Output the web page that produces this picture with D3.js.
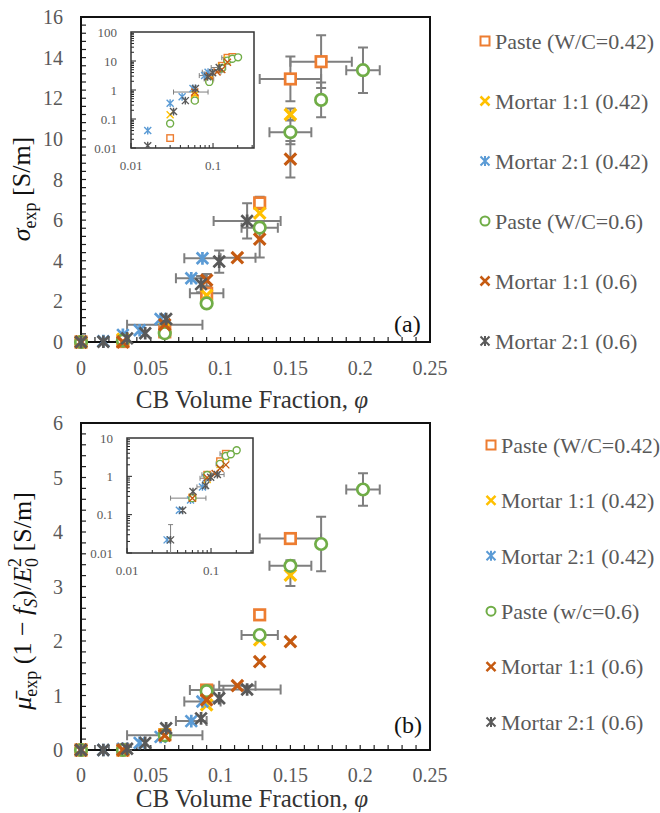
<!DOCTYPE html>
<html lang="en">
<head>
<meta charset="UTF-8"/>
<title>CB volume fraction vs conductivity</title>
<script src="https://d3js.org/d3.v7.min.js"></script>
<style>
	body{margin:0;background:#fff;}
	text{font-family:"Liberation Serif","DejaVu Serif","Times New Roman",serif;}
</style>
</head>
<body>
<script>

var w=660;
var h=813;
var serif="'Liberation Serif','DejaVu Serif','Times New Roman',serif";

// series
var names =["Paste (W/C=0.42)","Mortar 1:1 (0.42)","Mortar 2:1 (0.42)","Paste (W/C=0.6)","Mortar 1:1 (0.6)","Mortar 2:1 (0.6)"];
var namesB=["Paste (W/C=0.42)","Mortar 1:1 (0.42)","Mortar 2:1 (0.42)","Paste (w/c=0.6)","Mortar 1:1 (0.6)","Mortar 2:1 (0.6)"];
var colors=["#ED7D31","#FFC000","#5B9BD5","#70AD47","#C55A11","#595959"];
var shapes=["square","x","star","circle","x","star"];

// ticks
var xTicks=[0,0.05,0.1,0.15,0.2,0.25];
var yTicksA=[0,2,4,6,8,10,12,14,16];
var yTicksB=[0,1,2,3,4,5,6];
var insetYTicksA=[0.01,0.1,1,10,100];
var insetYTicksB=[0.01,0.1,1,10];
var insetXTicks=[0.01,0.1];

// Paste (W/C=0.42)
var phi1=[0,0.03,0.06,0.09,0.128,0.15,0.172];
var sig1=[0,0.022,0.5,2.4,6.85,12.95,13.8];
var mu1 =[0,0,0.28,1.1,2.48,3.88,null];
var ex1 =[0,0,0,0.012,0,0.022,0.022];
var es1 =[0,0,0,0,0.3,1.1,1.3];
var em1 =[0,0,0,0,0,0.1,0];

// Mortar 1:1 (0.42)
var phi2=[0,0.03,0.06,0.09,0.128,0.15];
var sig2=[0,0.14,0.7,2.3,6.35,11.2];
var mu2 =[0,0,0.28,0.83,2.02,3.21];
var ex2 =[0,0,0,0,0,0];
var es2 =[0,0,0,0,0,0.3];
var em2 =[0,0,0,0,0,0.2];

// Mortar 2:1 (0.42)
var phi3=[0.016,0.03,0.042,0.057,0.079,0.087];
var sig3=[0.04,0.35,0.58,1.13,3.14,4.12];
var mu3 =[0,0.022,0.13,0.24,0.53,0.89];
var ex3 =[0,0,0,0,0.011,0.013];
var es3 =[0,0,0,0,0,0];
var em3 =[0,0,0,0,0,0];

// Paste (W/C=0.6)
var phi4=[0,0.03,0.06,0.09,0.128,0.15,0.172,0.202];
var sig4=[0,0.07,0.43,1.9,5.63,10.33,11.92,13.38];
var mu4 =[0,0,0.27,1.08,2.11,3.38,3.78,4.78];
var ex4 =[0,0,0,0,0.013,0.015,0,0.012];
var es4 =[0,0,0,0,0.2,0.6,0.85,1.12];
var em4 =[0,0,0,0,0,0.1,0.5,0.3];

// Mortar 1:1 (0.6)
var phi5=[0,0.03,0.06,0.09,0.112,0.128,0.15];
var sig5=[0,0,0.85,3.05,4.15,5.06,9.0];
var mu5 =[0,0,0.27,0.92,1.18,1.62,1.99];
var ex5 =[0,0,0.027,0,0.013,0,0];
var es5 =[0,0,0,0.3,0,0.9,0.9];
var em5 =[0,0,0,0,0,0,0];

// Mortar 2:1 (0.6)
var phi6=[0,0.016,0.033,0.046,0.061,0.086,0.099,0.119];
var sig6=[0,0.012,0.18,0.43,1.13,2.85,3.96,5.96];
var mu6 =[0,0,0.022,0.13,0.4,0.58,0.95,1.11];
var ex6 =[0,0,0,0,0,0,0,0.024];
var es6 =[0,0,0,0,0,0.4,0.55,0.87];
var em6 =[0,0,0.033,0,0,0,0,0];

var phis=[phi1,phi2,phi3,phi4,phi5,phi6];
var sigs=[sig1,sig2,sig3,sig4,sig5,sig6];
var mus =[mu1,mu2,mu3,mu4,mu5,mu6];
var exs =[ex1,ex2,ex3,ex4,ex5,ex6];
var ess =[es1,es2,es3,es4,es5,es6];
var ems =[em1,em2,em3,em4,em5,em6];

var errColor="#7f7f7f";
var tickColor="#595959";

var svg=d3.select("body")
	.append("svg")
	.attr("width",w)
	.attr("height",h)
	.attr("font-family",serif);

svg.append("rect").attr("width",w).attr("height",h).attr("fill","#fff");

function points(ys,es){
	var out=[];
	for(var s=0;s<6;s++){
		phis[s].forEach(function(p,i){
			if(ys[s][i]===null) return;
			out.push({s:s,x:p,y:ys[s][i],ex:exs[s][i],ey:es[s][i]});
		});
	}
	return out;
}

function marker(g,shape,cx,cy,size,color,sw){
	var r=size/2;
	if(shape=="square"){
		g.append("rect").attr("x",cx-r).attr("y",cy-r).attr("width",size).attr("height",size)
			.attr("fill","#fff").attr("stroke",color).attr("stroke-width",sw);
	}else if(shape=="circle"){
		g.append("circle").attr("cx",cx).attr("cy",cy).attr("r",r)
			.attr("fill","#fff").attr("stroke",color).attr("stroke-width",sw);
	}else{
		var p="M"+(cx-r)+","+(cy-r)+"L"+(cx+r)+","+(cy+r)+"M"+(cx-r)+","+(cy+r)+"L"+(cx+r)+","+(cy-r);
		if(shape=="star") p+="M"+cx+","+(cy-r*1.1)+"L"+cx+","+(cy+r*1.1);
		g.append("path").attr("d",p).attr("fill","none").attr("stroke",color).attr("stroke-width",sw);
	}
}

function errorBars(g,pts,xs,ys,cap,sw,logY){
	pts.forEach(function(d){
		var cx=xs(d.x), cy=ys(d.y);
		if(d.ex>0){
			var a=xs(d.x-d.ex), b=xs(d.x+d.ex);
			g.append("path").attr("d","M"+a+","+cy+"H"+b+"M"+a+","+(cy-cap)+"V"+(cy+cap)+"M"+b+","+(cy-cap)+"V"+(cy+cap))
				.attr("stroke",errColor).attr("stroke-width",sw).attr("fill","none");
		}
		if(d.ey>0){
			var lo=d.y-d.ey;
			if(logY && lo<=0) lo=1e-5;
			var t=ys(d.y+d.ey), u=ys(lo);
			var pth="M"+cx+","+t+"V"+u+"M"+(cx-cap)+","+t+"H"+(cx+cap);
			if(!(logY && lo<=1e-5)) pth+="M"+(cx-cap)+","+u+"H"+(cx+cap);
			g.append("path").attr("d",pth)
				.attr("stroke",errColor).attr("stroke-width",sw).attr("fill","none");
		}
	});
}

function panel(cfg){
	var xScale=d3.scaleLinear().domain([0,0.25]).range([81,430]);
	var yScale=d3.scaleLinear().domain([0,cfg.yMax]).range([cfg.bottom,cfg.top]);
	var g=svg.append("g");

	// minor ticks inside the frame
	d3.range(0,0.2501,0.01).forEach(function(v){
		g.append("line").attr("x1",xScale(v)).attr("x2",xScale(v))
			.attr("y1",cfg.bottom).attr("y2",cfg.bottom-5).attr("stroke","#222").attr("stroke-width",1.2);
	});
	d3.range(0,cfg.yMax+0.001,cfg.minor).forEach(function(v){
		g.append("line").attr("x1",81).attr("x2",86)
			.attr("y1",yScale(v)).attr("y2",yScale(v)).attr("stroke","#222").attr("stroke-width",1.2);
	});

	g.append("rect").attr("x",81).attr("y",cfg.top).attr("width",349).attr("height",cfg.bottom-cfg.top)
		.attr("fill","none").attr("stroke","#111").attr("stroke-width",2);

	g.selectAll(".xl").data(xTicks).enter().append("text")
		.attr("x",function(d){return xScale(d);}).attr("y",cfg.xLabelY)
		.attr("text-anchor","middle").attr("font-size",20).attr("fill",tickColor)
		.text(function(d){return d;});
	g.selectAll(".yl").data(cfg.yTicks).enter().append("text")
		.attr("x",63).attr("y",function(d){return yScale(d);}).attr("dy","0.35em")
		.attr("text-anchor","end").attr("font-size",20).attr("fill",tickColor)
		.text(function(d){return d;});

	var title=g.append("text").attr("x",252).attr("y",cfg.titleY).attr("text-anchor","middle")
		.attr("font-size",25).attr("fill","#333");
	title.append("tspan").text("CB Volume Fraction, ");
	title.append("tspan").attr("font-style","italic").text("φ");

	g.append("text").attr("x",394).attr("y",cfg.tagY).attr("font-size",24).attr("fill","#111").text(cfg.tag);

	var pts=points(cfg.ys,cfg.es);
	errorBars(g,pts,xScale,yScale,5,2,false);
	pts.forEach(function(d){
		var sh=shapes[d.s];
		var size=sh=="square"?10.5:(sh=="circle"?11.5:11.5);
		var sw=sh=="x"?3.2:2.7;
		marker(g,sh,xScale(d.x),yScale(d.y),size,colors[d.s],sw);
	});

	// log-log inset
	var ins=cfg.inset;
	var ix=d3.scaleLog().domain([0.01,0.316]).range([ins.x0,ins.x1]);
	var iy=d3.scaleLog().domain(ins.yDomain).range([ins.y1,ins.y0]);
	var ig=svg.append("g");
	ig.append("rect").attr("x",ins.x0).attr("y",ins.y0).attr("width",ins.x1-ins.x0).attr("height",ins.y1-ins.y0)
		.attr("fill","#fff");
	ig.append("clipPath").attr("id","clip"+cfg.tag.replace(/\W/g,""))
		.append("rect").attr("x",ins.x0).attr("y",ins.y0).attr("width",ins.x1-ins.x0).attr("height",ins.y1-ins.y0);

	var lx=[0.02,0.03,0.04,0.05,0.06,0.07,0.08,0.09,0.2,0.3];
	lx.forEach(function(v){
		ig.append("line").attr("x1",ix(v)).attr("x2",ix(v)).attr("y1",ins.y1).attr("y2",ins.y1-3)
			.attr("stroke","#222").attr("stroke-width",1);
	});
	insetXTicks.forEach(function(v){
		ig.append("line").attr("x1",ix(v)).attr("x2",ix(v)).attr("y1",ins.y1).attr("y2",ins.y1-5)
			.attr("stroke","#222").attr("stroke-width",1);
	});
	var lo=Math.log10(ins.yDomain[0]), hi=Math.log10(ins.yDomain[1]);
	for(var e=lo;e<hi;e++){
		for(var k=1;k<10;k++){
			var v=k*Math.pow(10,e);
			ig.append("line").attr("x1",ins.x0).attr("x2",ins.x0+(k==1?5:3)).attr("y1",iy(v)).attr("y2",iy(v))
				.attr("stroke","#222").attr("stroke-width",1);
		}
	}

	ig.append("rect").attr("x",ins.x0).attr("y",ins.y0).attr("width",ins.x1-ins.x0).attr("height",ins.y1-ins.y0)
		.attr("fill","none").attr("stroke","#333").attr("stroke-width",1.5);

	ig.selectAll(".ixl").data(insetXTicks).enter().append("text")
		.attr("x",function(d){return ix(d);}).attr("y",ins.xLabelY).attr("text-anchor","middle")
		.attr("font-size",13).attr("fill",tickColor).text(function(d){return d;});
	ig.selectAll(".iyl").data(cfg.insetYTicks).enter().append("text")
		.attr("x",ins.yLabelX).attr("y",function(d){return iy(d);}).attr("dy","0.35em").attr("text-anchor","end")
		.attr("font-size",13).attr("fill",tickColor).text(function(d){return d;});

	var inner=ig.append("g").attr("clip-path","url(#clip"+cfg.tag.replace(/\W/g,"")+")");
	var ipts=pts.filter(function(d){return d.x>0 && d.y>0;});
	errorBars(inner,ipts,ix,iy,2.5,1,true);
	ipts.forEach(function(d){
		var sh=shapes[d.s];
		marker(inner,sh,ix(d.x),iy(d.y),sh=="square"?6.5:7,colors[d.s],1.4);
	});

	// legend
	var lg=svg.append("g");
	cfg.names.forEach(function(n,i){
		var y=cfg.legY+i*cfg.legStep;
		var sh=shapes[i];
		marker(lg,sh,cfg.legX,y,9,colors[i],sh=="x"?2.5:2);
		lg.append("text").attr("x",cfg.legX+10).attr("y",y).attr("dy","0.35em")
			.attr("font-size",22).attr("fill",tickColor).text(n);
	});
	return g;
}

panel({top:17,bottom:342,yMax:16,minor:0.4,yTicks:yTicksA,ys:sigs,es:ess,
	xLabelY:375,titleY:408,tag:"(a)",tagY:332,
	inset:{x0:131,x1:254,y0:32,y1:148,yDomain:[0.01,100],xLabelY:170,yLabelX:117},
	insetYTicks:insetYTicksA,names:names,legX:485,legY:41,legStep:60});

panel({top:423,bottom:750,yMax:6,minor:0.2,yTicks:yTicksB,ys:mus,es:ems,
	xLabelY:782,titleY:807,tag:"(b)",tagY:733,
	inset:{x0:127,x1:253,y0:438,y1:553,yDomain:[0.01,10],xLabelY:575,yLabelX:113},
	insetYTicks:insetYTicksB,names:namesB,legX:491,legY:445,legStep:55.4});

// y axis titles
var ta=svg.append("text").attr("transform","translate(30,189) rotate(-90)")
	.attr("text-anchor","middle").attr("font-size",26).attr("fill","#111");
ta.append("tspan").attr("font-style","italic").text("σ");
ta.append("tspan").attr("font-size",18).attr("dy",6).text("exp");
ta.append("tspan").attr("dy",-6).text(" [S/m]");

var tb=svg.append("text").attr("transform","translate(31,601) rotate(-90)")
	.attr("text-anchor","middle").attr("font-size",26).attr("fill","#111");
tb.append("tspan").attr("font-style","italic").text("μ\u0304");
tb.append("tspan").attr("font-size",18).attr("dy",6).text("exp");
tb.append("tspan").attr("dy",-6).text(" (1 − ");
tb.append("tspan").attr("font-style","italic").text("f");
tb.append("tspan").attr("font-style","italic").attr("font-size",18).attr("dy",6).text("S");
tb.append("tspan").attr("dy",-6).text(")/");
tb.append("tspan").attr("font-style","italic").text("E");
tb.append("tspan").attr("font-size",18).attr("dy",-10).text("2");
tb.append("tspan").attr("font-size",18).attr("dx",-9).attr("dy",17).text("0");
tb.append("tspan").attr("dy",-7).text(" [S/m]");

</script>
</body>
</html>
